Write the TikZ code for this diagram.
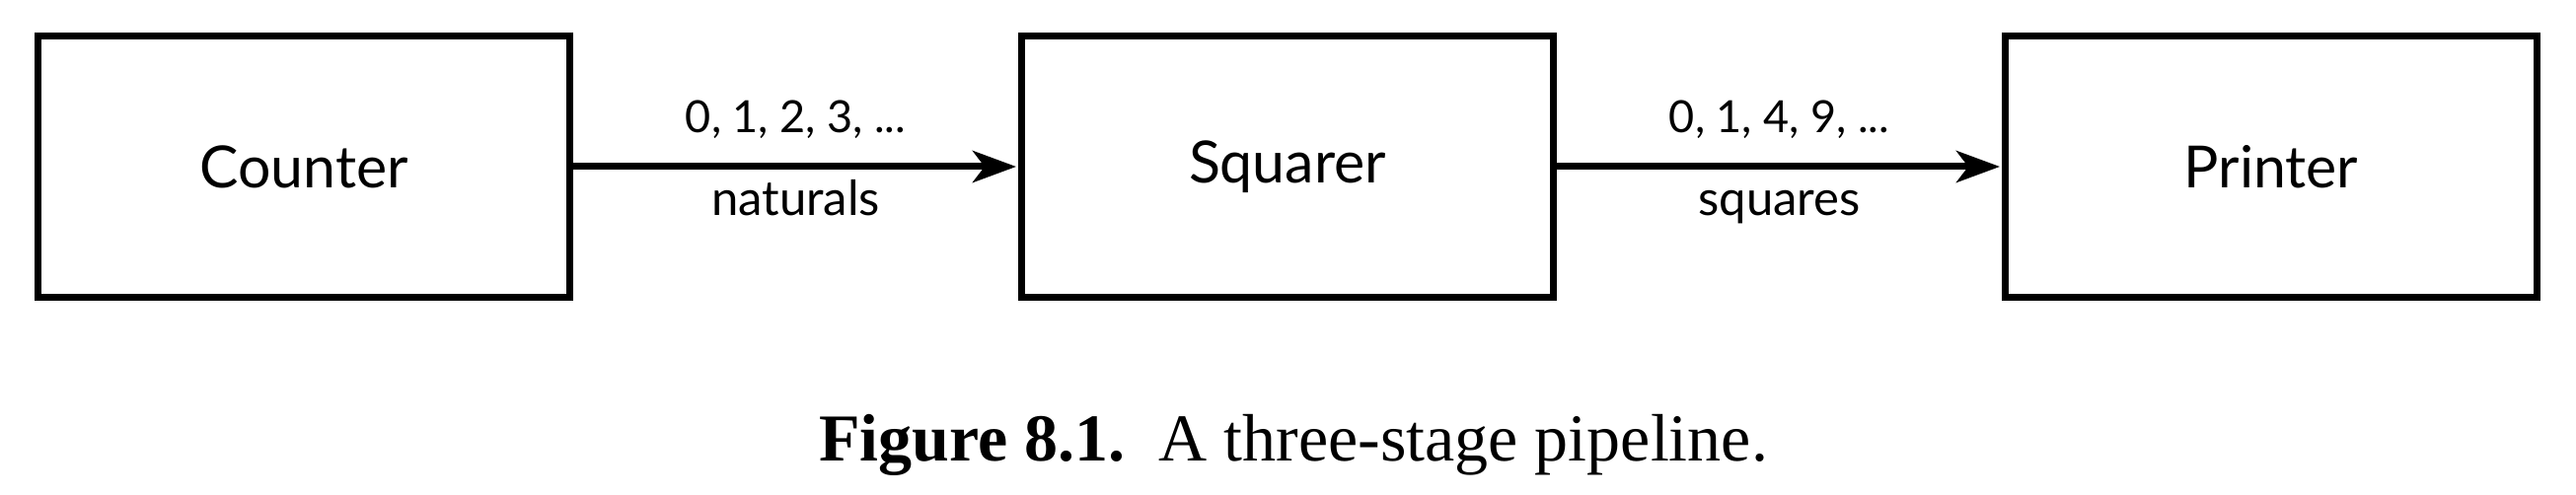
\documentclass[tikz,border=0pt]{standalone}
\usepackage{fontspec}
\setmainfont{Lato}
\newfontfamily\captionfont{Liberation Serif}
\usetikzlibrary{arrows.meta}
\tikzstyle{stage}=[rectangle,draw,line width=3.5pt,minimum width=269.5pt,minimum height=132pt,inner sep=0pt,font=\fontsize{29.5}{35}\selectfont]
\tikzstyle{edge} = [draw,line width=3.5pt,-{Stealth[length=22pt,width=16pt,inset=6pt]},shorten >=1pt]
\tikzstyle{stream} = [font=\fontsize{22.5}{27}\selectfont,anchor=base]
\tikzstyle{kind} = [font=\fontsize{24.5}{29}\selectfont,anchor=base]
\begin{document}
\begin{tikzpicture}[x=0.5pt,y=-0.5pt]
   \useasboundingbox (0,0) rectangle (2611,502);

    \foreach \pos/\name/\txt in {{(308,169)/counter/Counter}, {(1305,169)/squarer/Squarer}, {(2302,169)/printer/Printer}}
        \node[stage] (\name) at \pos {\txt};

    \foreach \source/\dest/\values/\what in {{counter/squarer/{0, 1, 2, 3, ...}/naturals}, {squarer/printer/{0, 1, 4, 9, ...}/squares}}
            \path[edge] (\source) -- node[stream,yshift=17pt]{\values} node[kind,yshift=-25pt]{\what} (\dest);

   \node[anchor=base,font=\captionfont\fontsize{34}{40}\selectfont] (caption) at (1311,467) {\textbf{Figure 8.1.}\ \ A three-stage pipeline.};

\end{tikzpicture}
\end{document}
